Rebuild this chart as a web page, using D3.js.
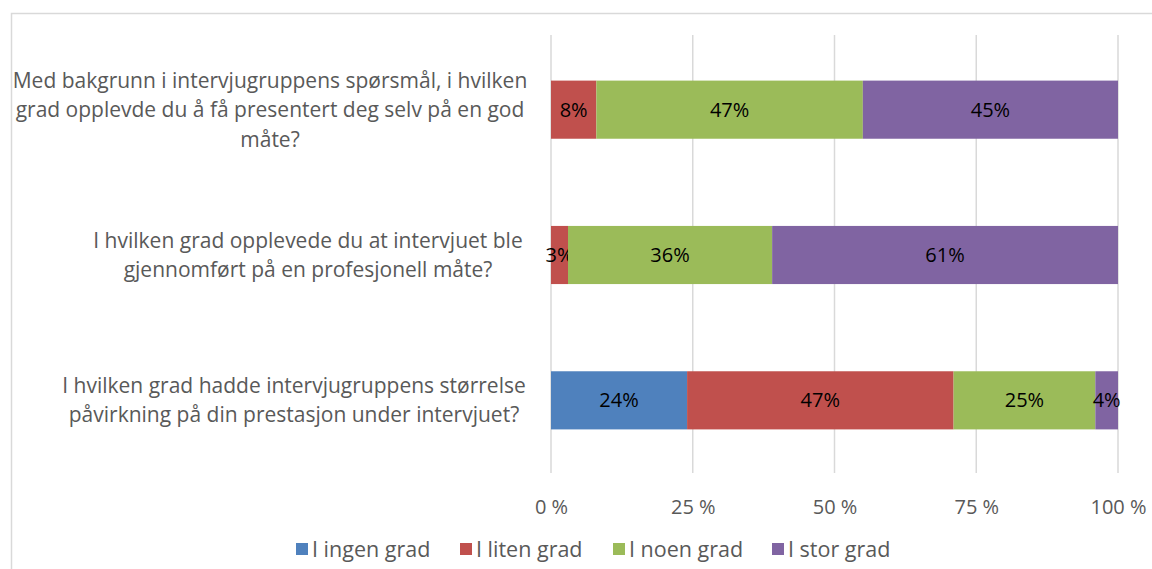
<!DOCTYPE html>
<html>
<head>
<meta charset="utf-8">
<script src="https://cdn.jsdelivr.net/npm/d3@7"></script>
<style>
  body { margin: 0; background: #fff; }
  svg { font-family: "Open Sans", sans-serif; }
</style>
</head>
<body>
<div id="chart"></div>
<script>
var questions = [
  ["Med bakgrunn i intervjugruppens spørsmål, i hvilken", "grad opplevde du å få presentert deg selv på en god", "måte?"],
  ["I hvilken grad opplevede du at intervjuet ble", "gjennomført på en profesjonell måte?"],
  ["I hvilken grad hadde intervjugruppens størrelse", "påvirkning på din prestasjon under intervjuet?"]
];
var seriesNames = ["I ingen grad", "I liten grad", "I noen grad", "I stor grad"];
var ingenGrad = [0, 0, 24];
var litenGrad = [8, 3, 47];
var noenGrad = [47, 36, 25];
var storGrad = [45, 61, 4];
var tickValues = [0, 25, 50, 75, 100];
var colors = ["#4F81BD", "#C0504D", "#9BBB59", "#8064A2"];

var svgWidth = 1152;
var svgHeight = 569;

// label box centres (Excel centres each wrapped label in its own box)
var labelCenters = [270, 308, 294];

var svg = d3.select("#chart")
  .append("svg")
  .attr("width", svgWidth)
  .attr("height", svgHeight);

// chart border (only top and left visible)
svg.append("rect")
  .attr("x", 11.5)
  .attr("y", 13.5)
  .attr("width", 1160)
  .attr("height", 580)
  .attr("fill", "none")
  .attr("stroke", "#d9d9d9")
  .attr("stroke-width", 1.5);

var x = d3.scaleLinear()
  .domain([0, 100])
  .range([551, 1118]);

var y = d3.scaleBand()
  .domain(d3.range(questions.length))
  .range([37, 473])
  .paddingInner(0.6)
  .paddingOuter(0.3);

// gridlines
svg.append("g")
  .selectAll("line")
  .data(tickValues)
  .enter()
  .append("line")
  .attr("x1", d => x(d))
  .attr("x2", d => x(d))
  .attr("y1", 35)
  .attr("y2", 473)
  .attr("stroke", "#d9d9d9")
  .attr("stroke-width", 1.5);

// stacked data
var rows = questions.map(function(q, i) {
  return { i: i, v: [ingenGrad[i], litenGrad[i], noenGrad[i], storGrad[i]] };
});
var keys = [0, 1, 2, 3];
var stacked = d3.stack()
  .keys(keys)
  .value((d, k) => d.v[k])(rows);

var layers = svg.selectAll("g.layer")
  .data(stacked)
  .enter()
  .append("g")
  .attr("class", "layer")
  .attr("fill", (d, k) => colors[k]);

layers.selectAll("rect")
  .data(d => d.filter(s => s[1] - s[0] > 0))
  .enter()
  .append("rect")
  .attr("x", d => x(d[0]))
  .attr("y", d => y(d.data.i))
  .attr("width", d => x(d[1]) - x(d[0]))
  .attr("height", y.bandwidth());

layers.selectAll("text")
  .data(d => d.filter(s => s[1] - s[0] > 0))
  .enter()
  .append("text")
  .attr("x", d => (x(d[0]) + x(d[1])) / 2)
  .attr("y", d => y(d.data.i) + y.bandwidth() / 2)
  .attr("dy", "0.35em")
  .attr("text-anchor", "middle")
  .attr("fill", "#000")
  .attr("font-size", 20)
  .text(d => (d[1] - d[0]) + "%");

// category labels
var lineH = 29.5;
svg.append("g")
  .selectAll("text")
  .data(questions)
  .enter()
  .append("text")
  .attr("text-anchor", "middle")
  .attr("fill", "#595959")
  .attr("font-size", 21)
  .each(function(lines, i) {
    var cy = y(i) + y.bandwidth() / 2;
    var t0 = cy - (lines.length - 1) * lineH / 2;
    d3.select(this).selectAll("tspan")
      .data(lines)
      .enter()
      .append("tspan")
      .attr("x", labelCenters[i])
      .attr("y", (l, j) => t0 + j * lineH)
      .attr("dy", "0.35em")
      .text(l => l);
  });

// x axis labels
var xAxis = d3.axisBottom(x)
  .tickValues(tickValues)
  .tickSize(0)
  .tickPadding(0)
  .tickFormat(d => d + " %");

var axisG = svg.append("g")
  .attr("transform", "translate(0, 500)")
  .call(xAxis);
axisG.select(".domain").remove();
axisG.selectAll("text")
  .attr("fill", "#595959")
  .attr("font-size", 20)
  .attr("font-family", "'Open Sans', sans-serif");

// legend
var legendX = [296, 460, 613, 772];
var legend = svg.append("g")
  .selectAll("g")
  .data(seriesNames)
  .enter()
  .append("g")
  .attr("transform", (d, i) => "translate(" + legendX[i] + ", 549)");

legend.append("rect")
  .attr("x", 0)
  .attr("y", -6)
  .attr("width", 12)
  .attr("height", 12)
  .attr("fill", (d, i) => colors[i]);

legend.append("text")
  .attr("x", 16)
  .attr("dy", "0.35em")
  .attr("fill", "#595959")
  .attr("font-size", 21.5)
  .text(d => d);
</script>
</body>
</html>
